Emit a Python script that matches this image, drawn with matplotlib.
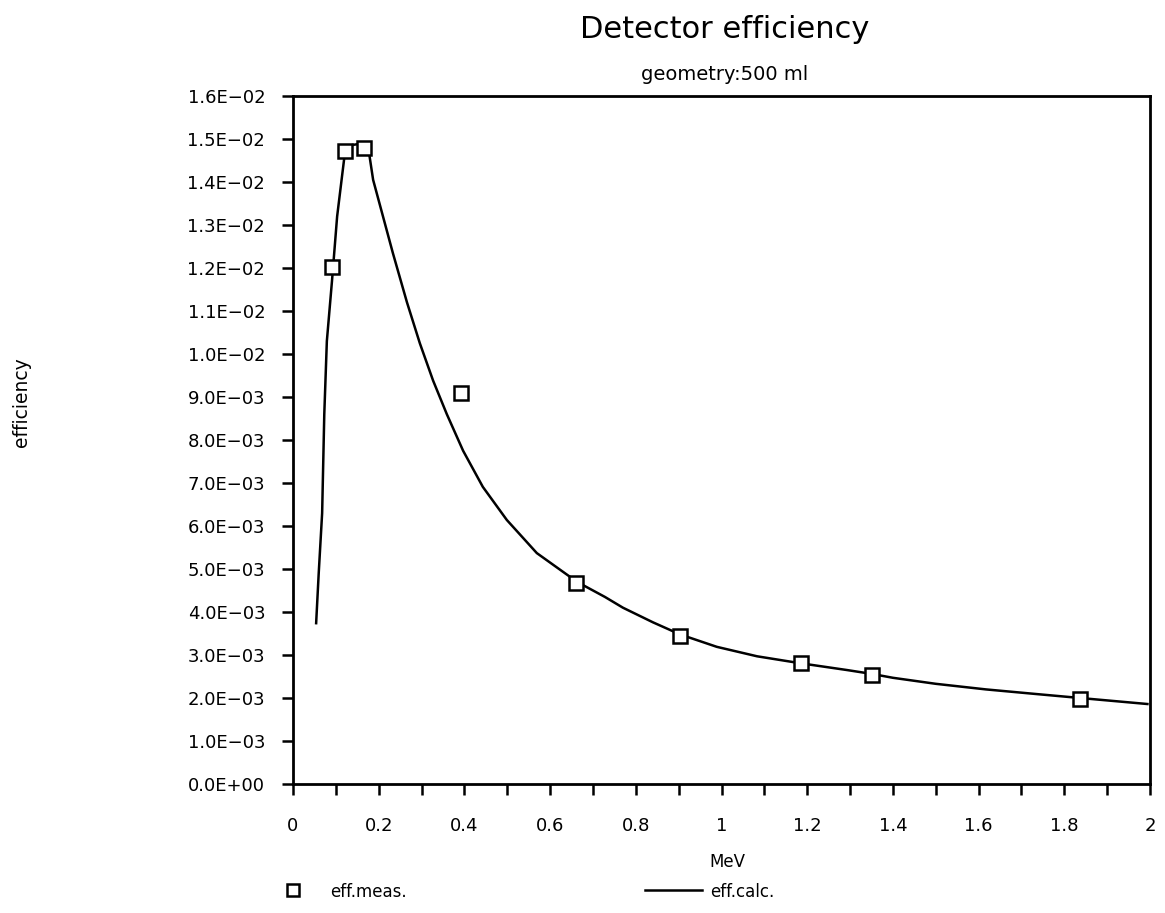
import matplotlib
matplotlib.use("Agg")
import matplotlib.pyplot as plt
from matplotlib.ticker import MultipleLocator, FuncFormatter
from matplotlib.lines import Line2D

# measured efficiencies
meas_energy = [0.091, 0.121, 0.166, 0.392, 0.660, 0.903, 1.186, 1.351, 1.837]
meas_eff = [0.01202, 0.01472, 0.01479, 0.00909, 0.00467, 0.00344, 0.00281, 0.00253, 0.00197]

# calculated efficiency curve
calc_energy = [0.054, 0.060, 0.068, 0.073, 0.079, 0.091, 0.103, 0.114, 0.121, 0.138,
               0.163, 0.175, 0.187, 0.210, 0.233, 0.266, 0.296, 0.327, 0.359, 0.397,
               0.443, 0.499, 0.569, 0.663, 0.728, 0.770, 0.840, 0.903, 0.989, 1.083,
               1.183, 1.293, 1.351, 1.400, 1.500, 1.617, 1.737, 1.837, 1.994]
calc_eff = [0.00374, 0.00490, 0.00630, 0.00860, 0.01030, 0.01170, 0.01320, 0.01410, 0.01467, 0.01486,
            0.01490, 0.01484, 0.01405, 0.01320, 0.01235, 0.01120, 0.01025, 0.00938, 0.00860, 0.00775,
            0.00691, 0.00614, 0.00537, 0.00470, 0.00435, 0.00410, 0.00376, 0.00348, 0.00319, 0.00297,
            0.00281, 0.00265, 0.00256, 0.00247, 0.00233, 0.00220, 0.00209, 0.00200, 0.00186]

title = "Detector efficiency"
subtitle = "geometry:500 ml"
xlabel = "MeV"
ylabel = "efficiency"

plt.rcParams['font.family'] = ['DejaVu Sans']

fig = plt.figure(figsize=(11.65, 9.13), dpi=100)
ax = fig.add_axes([293/1165, 1-784/913, (1150-293)/1165, (784-96)/913])

ax.plot(calc_energy, calc_eff, color='black', lw=1.8, solid_joinstyle='round')
ax.plot(meas_energy, meas_eff, linestyle='none', marker='s', markersize=10,
        markerfacecolor='white', markeredgecolor='black', markeredgewidth=1.8)

ax.set_xlim(0, 2)
ax.set_ylim(0, 0.016)
ax.xaxis.set_major_locator(MultipleLocator(0.2))
ax.xaxis.set_minor_locator(MultipleLocator(0.1))
ax.yaxis.set_major_locator(MultipleLocator(0.001))

def xfmt(v, pos):
    return "%g" % round(v, 1)
ax.xaxis.set_major_formatter(FuncFormatter(xfmt))

def yfmt(v, pos):
    if abs(v) < 1e-12:
        return "0.0E+00"
    if v < 0.00999:
        return "%.1fE\u221203" % (v * 1000)
    return "%.1fE\u221202" % (v * 100)
ax.yaxis.set_major_formatter(FuncFormatter(yfmt))

for s in ax.spines.values():
    s.set_linewidth(2)
ax.tick_params(axis='both', which='both', direction='out', length=8, width=1.8,
               labelsize=13, colors='black')
ax.tick_params(axis='x', which='both', pad=16)
ax.tick_params(axis='y', pad=12)

fig.text(725/1165, 1-30/913, title, ha='center', va='center', fontsize=22)
fig.text(725/1165, 1-75/913, subtitle, ha='center', va='center', fontsize=14)
fig.text(727/1165, 1-862/913, xlabel, ha='center', va='center', fontsize=12)
fig.text(22/1165, 1-402/913, ylabel, ha='center', va='center', fontsize=13.5, rotation=90)

# legend row
fig.add_artist(Line2D([293/1165], [1-890/913], marker='s', markersize=8,
                      markerfacecolor='white', markeredgecolor='black',
                      markeredgewidth=1.8, linestyle='none'))
fig.text(330/1165, 1-892/913, "eff.meas.", ha='left', va='center', fontsize=12)
fig.add_artist(Line2D([645/1165, 702/1165], [1-890/913, 1-890/913], color='black', lw=1.8))
fig.text(710/1165, 1-892/913, "eff.calc.", ha='left', va='center', fontsize=12)

fig.savefig("out.png", dpi=100, facecolor='white')
